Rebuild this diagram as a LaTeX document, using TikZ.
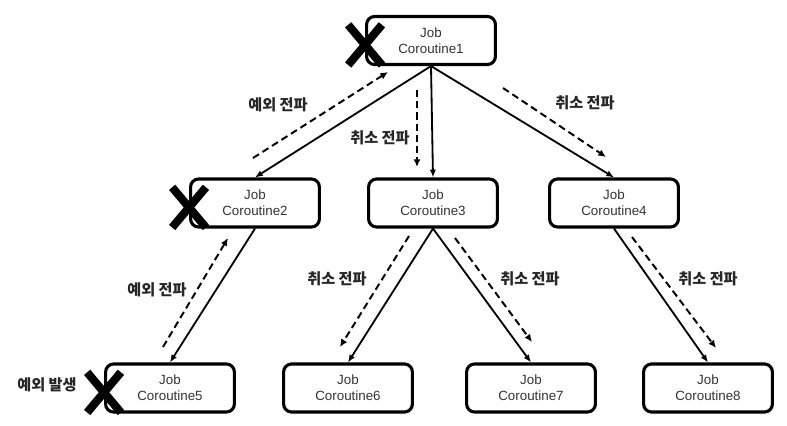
\documentclass[tikz,border=0pt]{standalone}
\usepackage{fontspec}
\setmainfont{Liberation Sans}
\newfontfamily\kr{Noto Sans CJK KR}
\usetikzlibrary{arrows.meta,shapes.misc}

\begin{document}
\begin{tikzpicture}[x=0.025cm, y=-0.025cm,
semithick,
job/.style ={ rectangle, rounded corners=0.2cm, draw, line width=2.2pt,
minimum width=3.22cm, minimum height=1.2cm, align=center,
font=\fontsize{9.5}{11.4}\selectfont, text=black!80},
link/.style ={ line width=1.3pt, -{Latex[length=5.5pt,width=4.5pt]}},
prop/.style ={ line width=1.4pt, dash pattern=on 5pt off 3pt,
-{Latex[length=5.5pt,width=5pt]}},
lab/.style ={ font=\kr\bfseries\fontsize{10.8}{13}\selectfont, text=black!85},
xmark/.style ={ cross out, draw, line width=5.8pt, minimum width=0.64cm,
minimum height=0.8cm, inner sep=0pt}]

\useasboundingbox (0,0) rectangle (787,426);

% jobs
\node[job] (c1) at (431,40.5) {Job\\Coroutine1};

\node[job] (c2) at (255,203) {Job\\Coroutine2};
\node[job] (c3) at (433,203) {Job\\Coroutine3};
\node[job] (c4) at (614,203) {Job\\Coroutine4};

\node[job] (c5) at (170,388) {Job\\Coroutine5};
\node[job] (c6) at (348,388) {Job\\Coroutine6};
\node[job] (c7) at (531,388) {Job\\Coroutine7};
\node[job] (c8) at (708,388) {Job\\Coroutine8};

% cancelled jobs
\node[xmark] (x1) at ([yshift=-0.11cm]c1.west) {};
\node[xmark] (x2) at ([yshift=-0.11cm]c2.west) {};
\node[xmark] (x5) at ([yshift=-0.11cm]c5.west) {};
\node[lab] (fail) at (47,385) {예외 발생};

% parent -> child
\draw[link] (c1.south) -- (c2.north);
\draw[link] (c1.south) -- (c3.north);
\draw[link] (c1.south) -- (c4.north);

\draw[link] (c2.south) -- (c5.north);
\draw[link] (c3.south) -- (c6.north);
\draw[link] (c3.south) -- (c7.north);
\draw[link] (c4.south) -- (c8.north);

% propagation
\coordinate (e52a) at (163,347); \coordinate (e52b) at (228,238);
\coordinate (e21a) at (253,158); \coordinate (e21b) at (388,72);
\coordinate (k13a) at (417,90);  \coordinate (k13b) at (417,167);
\coordinate (k14a) at (503,88);  \coordinate (k14b) at (606,157);
\coordinate (k36a) at (409,236); \coordinate (k36b) at (340,347);
\coordinate (k37a) at (455,238); \coordinate (k37b) at (532,342);
\coordinate (k48a) at (632,237); \coordinate (k48b) at (716,348);

\draw[prop] (e52a) -- (e52b);
\draw[prop] (e21a) -- (e21b);
\draw[prop] (k13a) -- (k13b);
\draw[prop] (k14a) -- (k14b);
\draw[prop] (k36a) -- (k36b);
\draw[prop] (k37a) -- (k37b);
\draw[prop] (k48a) -- (k48b);

\node[lab] (l52) at (157,290) {예외 전파};
\node[lab] (l21) at (278,105) {예외 전파};
\node[lab] (l13) at (380,138) {취소 전파};
\node[lab] (l14) at (585,103) {취소 전파};
\node[lab] (l36) at (337,279) {취소 전파};
\node[lab] (l37) at (530,279) {취소 전파};
\node[lab] (l48) at (708,279) {취소 전파};

\end{tikzpicture}
\end{document}
